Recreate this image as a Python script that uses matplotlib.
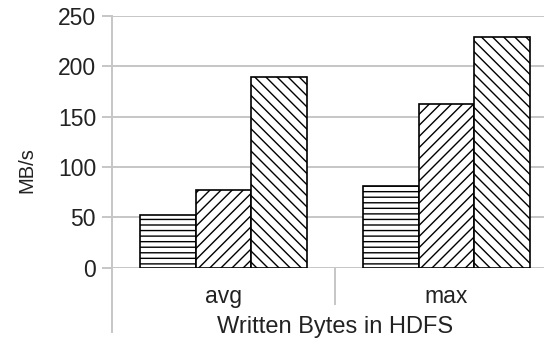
import matplotlib
matplotlib.use("Agg")
import matplotlib.pyplot as plt
import matplotlib.transforms as mtransforms

# dữ liệu
categories = ["avg", "max"]
series_a = [52, 81]
series_b = [77, 162]
series_c = [189, 229]
hatches = ["---", "///", "\\\\\\"]
y_ticks = [0, 50, 100, 150, 200, 250]

plt.rcParams["font.family"] = ["Liberation Sans", "DejaVu Sans"]
plt.rcParams["hatch.linewidth"] = 1.0

W, H = 544, 341
grid_col = "#c6c6c6"
text_col = "#222222"

fig = plt.figure(figsize=(W / 100, H / 100), dpi=100)
left, top, zero = 112, 15.7, 267.7
ax = fig.add_axes([left / W, 1 - zero / H, 1 - left / W, (zero - top) / H])

centers = [i + 0.5 for i in range(len(categories))]
width = 0.25
for k, vals in enumerate([series_a, series_b, series_c]):
    xs = [c + (k - 1) * width for c in centers]
    ax.bar(xs, vals, width=width, color="white", edgecolor="black",
           linewidth=1.2, hatch=hatches[k], zorder=3)

ax.set_ylim(0, 250)
ax.set_xlim(0, (W - left) / 223)
ax.set_yticks(y_ticks)
ax.set_xticks(centers, categories)
ax.yaxis.grid(True, color=grid_col, linewidth=1.4, zorder=0)
for s in ax.spines.values():
    s.set_visible(False)

ax.tick_params(axis="y", length=7.2, width=1.4, color=grid_col, pad=4.3,
               labelsize=16.5, labelcolor=text_col)
ax.tick_params(axis="x", length=0, pad=12.5, labelsize=16.5, labelcolor=text_col)

# trục dọc kéo dài xuống dưới
px = 1 / (zero - top)
ax.plot([0, 0], [1, -(332 - zero) * px], transform=ax.transAxes,
        color=grid_col, linewidth=1.4, clip_on=False, zorder=1)
trans = mtransforms.blended_transform_factory(ax.transData, ax.transAxes)
ax.plot([1, 1], [0, -(304 - zero) * px], transform=trans,
        color=grid_col, linewidth=1.4, clip_on=False, zorder=1)

ax.text(1.0, -(333 - zero) * px, "Written Bytes in HDFS", transform=trans,
        ha="center", va="baseline", fontsize=17, color=text_col)
fig.text(27 / W, 1 - 170 / H, "MB/s", rotation=90, ha="center", va="center",
         fontsize=14.5, color=text_col)

fig.savefig("out.png", dpi=100)
